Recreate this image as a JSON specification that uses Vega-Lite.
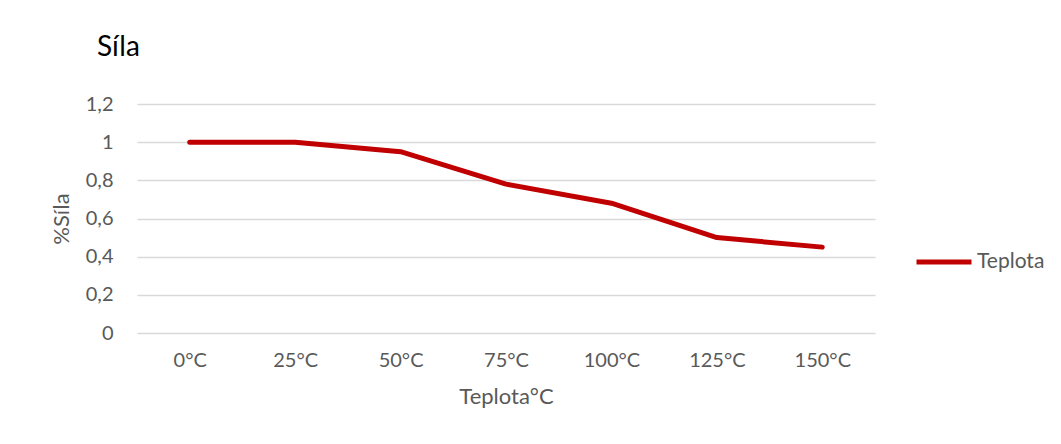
{
  "$schema": "https://vega.github.io/schema/vega-lite/v6.json",
  "width": 738,
  "height": 229,
  "autosize": {"type": "none"},
  "padding": {"left": 137, "top": 104, "right": 186, "bottom": 111},
  "background": "#ffffff",
  "config": {
    "view": {"stroke": null},
    "font": "Lato",
    "axis": {"labelFont": "Lato", "titleFont": "Lato", "labelColor": "#595959", "titleColor": "#595959", "labelFontSize": 20, "titleFontSize": 22, "titleFontWeight": "normal", "gridColor": "#d9d9d9", "gridWidth": 1.5, "domain": false, "ticks": false}
  },
  "title": {"text": "Síla", "anchor": "start", "frame": "group", "font": "Lato", "fontSize": 28, "fontWeight": "normal", "color": "#000000", "baseline": "alphabetic", "offset": 10, "dx": -40},
  "data": {"values": [
    {"t": "0°C", "v": 1.0, "s": "Teplota"},
    {"t": "25°C", "v": 1.0, "s": "Teplota"},
    {"t": "50°C", "v": 0.95, "s": "Teplota"},
    {"t": "75°C", "v": 0.78, "s": "Teplota"},
    {"t": "100°C", "v": 0.68, "s": "Teplota"},
    {"t": "125°C", "v": 0.5, "s": "Teplota"},
    {"t": "150°C", "v": 0.45, "s": "Teplota"}
  ]},
  "mark": {"type": "line", "strokeWidth": 5, "strokeCap": "round", "strokeJoin": "round"},
  "encoding": {
    "x": {"field": "t", "type": "ordinal", "sort": null, "scale": {"type": "point", "padding": 0.5},
      "axis": {"title": "Teplota°C", "labelAngle": 0, "grid": false, "labelPadding": 17, "titlePadding": 16}},
    "y": {"field": "v", "type": "quantitative", "scale": {"domain": [0, 1.2]},
      "axis": {"title": "%Síla", "values": [0, 0.2, 0.4, 0.6, 0.8, 1, 1.2], "labelExpr": "replace(format(datum.value, '.1~f'), '.', ',')", "labelPadding": 24, "titlePadding": 12}},
    "color": {"field": "s", "type": "nominal", "scale": {"range": ["#c00000"]},
      "legend": {"title": null, "orient": "none", "legendX": 777, "legendY": 128, "symbolType": "stroke", "symbolSize": 3025, "symbolStrokeWidth": 5, "labelFontSize": 21, "labelFont": "Lato", "labelColor": "#595959", "labelOffset": 3, "padding": 0}}
  }
}
